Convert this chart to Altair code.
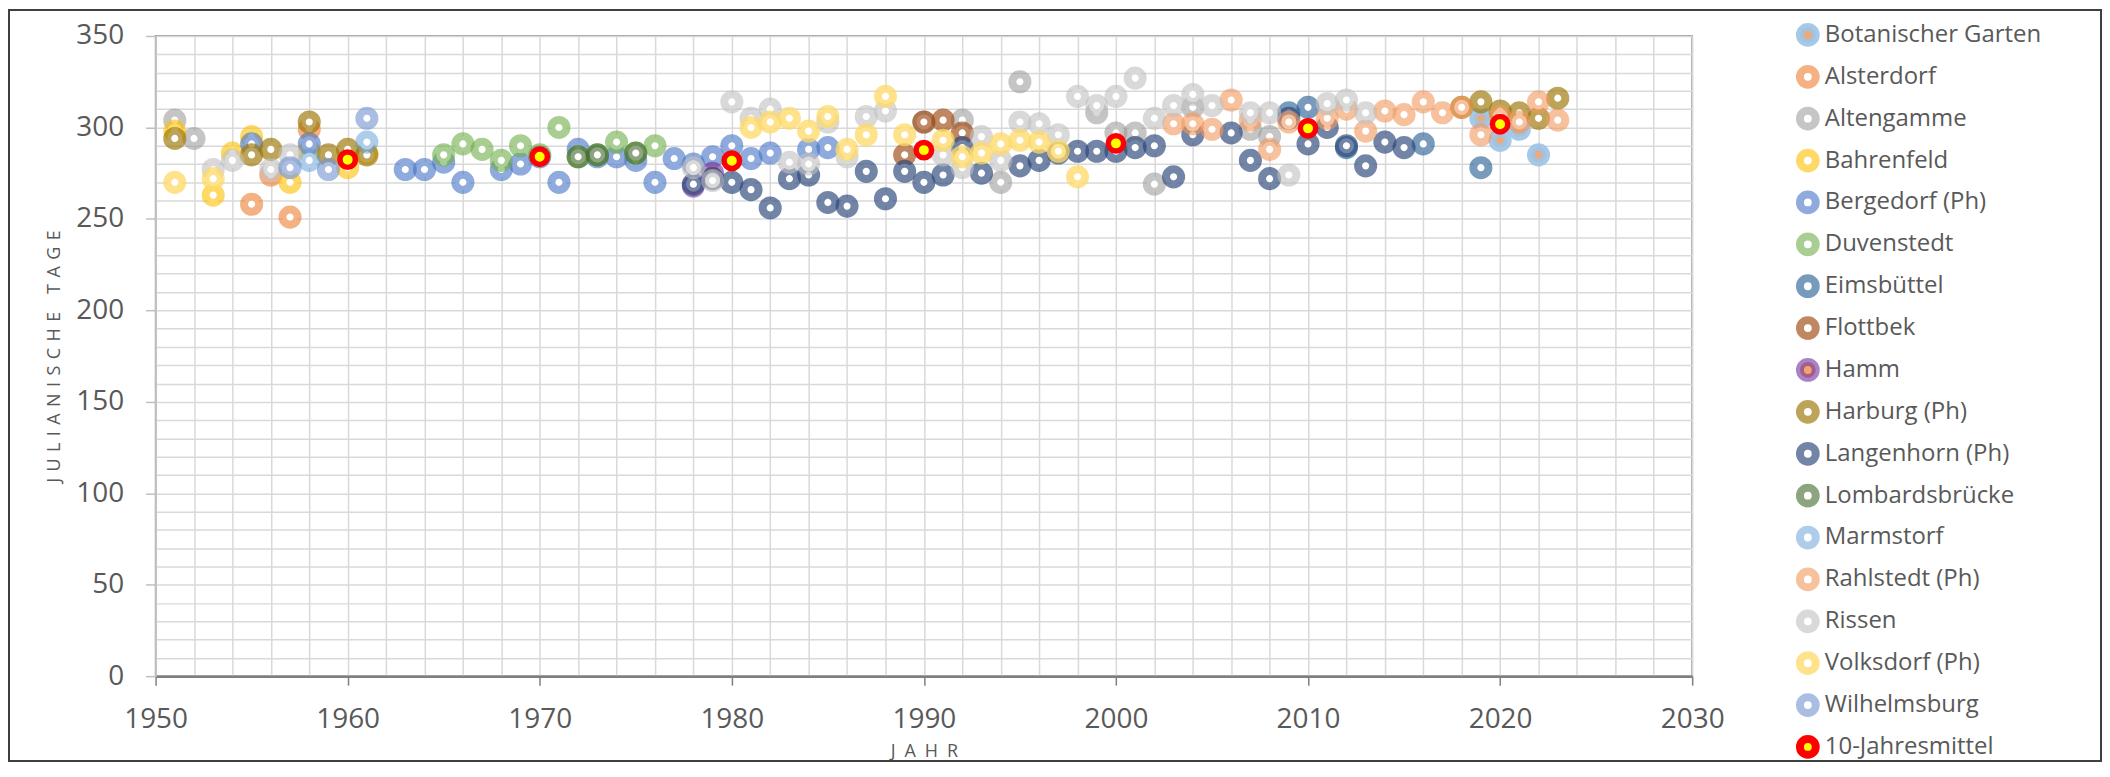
import altair as alt
import pandas as pd

# ---------------- data ----------------
stations = [
    "Botanischer Garten", "Alsterdorf", "Altengamme", "Bahrenfeld", "Bergedorf (Ph)",
    "Duvenstedt", "Eimsbüttel", "Flottbek", "Hamm", "Harburg (Ph)", "Langenhorn (Ph)",
    "Lombardsbrücke", "Marmstorf", "Rahlstedt (Ph)", "Rissen", "Volksdorf (Ph)",
    "Wilhelmsburg", "10-Jahresmittel",
]

botanischer_jahr = [2019, 2020, 2021, 2022]
botanischer_tage = [305, 293, 299, 285]

alsterdorf_jahr = [1955, 1956, 1957, 1958]
alsterdorf_tage = [258, 274, 251, 299]

altengamme_jahr = [1951, 1952, 1990, 1992, 1994, 1995, 1999, 2000, 2001, 2002, 2004, 2007, 2008]
altengamme_tage = [304, 294, 303, 304, 270, 325, 308, 297, 297, 269, 311, 299, 295]

bahrenfeld_jahr = [1951, 1953, 1954, 1955, 1957, 1958, 1960, 1961]
bahrenfeld_tage = [298, 263, 286, 295, 270, 287, 278, 286]

bergedorf_jahr = [1955, 1958, 1963, 1964, 1965, 1966, 1968, 1969, 1970, 1971, 1972, 1973,
                  1974, 1975, 1976, 1977, 1978, 1979, 1980, 1981, 1982, 1984, 1985]
bergedorf_tage = [291, 291, 277, 277, 281, 270, 277, 280, 284, 270, 288, 284,
                  284, 282, 270, 283, 280, 284, 290, 283, 286, 288, 289]

duvenstedt_jahr = [1965, 1966, 1967, 1968, 1969, 1970, 1971, 1972, 1973, 1974, 1975, 1976]
duvenstedt_tage = [285, 291, 288, 282, 290, 285, 300, 284, 285, 292, 286, 290]

eimsbuettel_jahr = [2009, 2010, 2012, 2016, 2019]
eimsbuettel_tage = [308, 311, 289, 291, 278]

flottbek_jahr = [1989, 1990, 1991, 1992]
flottbek_tage = [285, 303, 304, 297]

hamm_jahr = [1978, 1979]
hamm_tage = [268, 275]

harburg_jahr = [1951, 1955, 1956, 1958, 1959, 1960, 1961, 2018, 2019, 2020, 2021, 2022, 2023]
harburg_tage = [294, 285, 288, 303, 285, 288, 285, 311, 314, 309, 308, 305, 316]

langenhorn_jahr = [1978, 1979, 1980, 1981, 1982, 1983, 1984, 1985, 1986, 1987, 1988, 1989,
                   1990, 1991, 1992, 1993, 1995, 1996, 1997, 1998, 1999, 2000, 2001, 2002,
                   2003, 2004, 2006, 2007, 2008, 2009, 2010, 2011, 2012, 2013, 2014, 2015]
langenhorn_tage = [269, 272, 270, 266, 256, 272, 274, 259, 257, 276, 261, 276,
                   270, 274, 289, 275, 279, 282, 286, 287, 287, 287, 289, 290,
                   273, 296, 297, 282, 272, 305, 291, 300, 290, 279, 292, 289]

lombard_jahr = [1972, 1973, 1975]
lombard_tage = [284, 285, 286]

marmstorf_jahr = [1958, 1961]
marmstorf_tage = [282, 292]

rahlstedt_jahr = [2003, 2004, 2005, 2006, 2007, 2008, 2009, 2011, 2012, 2013, 2014, 2015,
                  2016, 2017, 2018, 2019, 2020, 2021, 2022, 2023]
rahlstedt_tage = [302, 302, 299, 315, 304, 288, 303, 305, 310, 298, 309, 307,
                  314, 308, 311, 296, 306, 303, 314, 304]

rissen_jahr = [1953, 1954, 1956, 1957, 1978, 1979, 1980, 1981, 1982, 1983, 1984, 1985,
               1986, 1987, 1988, 1991, 1992, 1993, 1994, 1995, 1996, 1997, 1998, 1999,
               2000, 2001, 2002, 2003, 2004, 2005, 2007, 2008, 2009, 2011, 2012, 2013]
rissen_tage = [277, 282, 277, 285, 278, 271, 314, 305, 310, 281, 280, 303,
               284, 306, 309, 285, 278, 295, 282, 303, 302, 296, 317, 312,
               317, 327, 305, 312, 318, 312, 308, 308, 274, 313, 315, 308]

volksdorf_jahr = [1951, 1953, 1981, 1982, 1983, 1984, 1985, 1986, 1987, 1988, 1989, 1991,
                  1992, 1993, 1994, 1995, 1996, 1997, 1998]
volksdorf_tage = [270, 272, 300, 303, 305, 298, 306, 288, 296, 317, 296, 293,
                  284, 286, 291, 293, 292, 287, 273]

wilhelmsburg_jahr = [1957, 1959, 1961]
wilhelmsburg_tage = [278, 277, 305]

mittel_jahr = [1960, 1970, 1980, 1990, 2000, 2010, 2020]
mittel_tage = [282.4, 284.0, 281.8, 287.6, 291.3, 299.5, 301.8]

# ---------------- styles ----------------
stroke_colors = [
    "rgba(157,195,230,0.9)", "rgba(237,125,49,0.6)", "rgba(150,150,150,0.55)",
    "rgba(255,192,0,0.6)", "rgba(68,114,196,0.6)", "rgba(112,173,71,0.6)",
    "rgba(37,94,145,0.62)", "rgba(158,72,14,0.65)", "rgba(112,48,160,0.6)",
    "rgba(153,115,0,0.65)", "rgba(38,68,120,0.65)", "rgba(67,104,43,0.6)",
    "rgba(91,155,213,0.5)", "rgba(241,151,91,0.6)", "rgba(191,191,191,0.6)",
    "rgba(255,217,102,0.75)", "rgba(114,147,210,0.6)", "#FF0000",
]
fill_colors = ["#EFA877"] + ["#FFFFFF"] * 7 + ["#F2A36E"] + ["#FFFFFF"] * 8 + ["#FFFF00"]

series = [
    (botanischer_jahr, botanischer_tage), (alsterdorf_jahr, alsterdorf_tage),
    (altengamme_jahr, altengamme_tage), (bahrenfeld_jahr, bahrenfeld_tage),
    (bergedorf_jahr, bergedorf_tage), (duvenstedt_jahr, duvenstedt_tage),
    (eimsbuettel_jahr, eimsbuettel_tage), (flottbek_jahr, flottbek_tage),
    (hamm_jahr, hamm_tage), (harburg_jahr, harburg_tage),
    (langenhorn_jahr, langenhorn_tage), (lombard_jahr, lombard_tage),
    (marmstorf_jahr, marmstorf_tage), (rahlstedt_jahr, rahlstedt_tage),
    (rissen_jahr, rissen_tage), (volksdorf_jahr, volksdorf_tage),
    (wilhelmsburg_jahr, wilhelmsburg_tage), (mittel_jahr, mittel_tage),
]

rows = []
for name, (jahre, tage) in zip(stations, series):
    for j, t in zip(jahre, tage):
        rows.append({"Station": name, "Jahr": j, "Tage": t})
df = pd.DataFrame(rows)

FONT = "Open Sans"
TXT = "#595959"
SP = "\u00A0\u200A"
EN = "\u2002"

legend = alt.Legend(
    title=None, orient="none", direction="vertical", legendX=1645, legendY=-22,
    labelFont=FONT, labelFontSize=24, labelColor=TXT, labelLimit=400,
    labelOffset=5, rowPadding=0, clipHeight=41.9, padding=0, symbolType="circle",
    symbolSize=250, symbolStrokeWidth=8,
)

x_axis = alt.Axis(
    values=list(range(1950, 2031, 2)), format="d",
    labelExpr="datum.value % 10 === 0 ? datum.label : ''",
    grid=True, gridColor="#D9D9D9", gridWidth=1.5,
    tickColor={"condition": {"test": "datum.value % 10 === 0", "value": "#7F7F7F"},
               "value": "rgba(0,0,0,0)"},
    tickSize=9, tickWidth=1.5, domainColor="#7F7F7F", domainWidth=2.5,
    labelFont=FONT, labelFontSize=28, labelColor=TXT, labelPadding=20,
    labelOverlap=False, labelFlush=False,
    title=EN.join("JAHR"), titleFont=FONT, titleFontSize=18, titleFontWeight="normal",
    titleColor=TXT, titleX=770.5, titleY=76, titleAlign="center", titleBaseline="middle",
)
y_axis = alt.Axis(
    values=list(range(0, 351, 10)),
    labelExpr="datum.value % 50 === 0 ? datum.label : ''",
    grid=True, gridColor="#D9D9D9", gridWidth=1.5,
    tickColor={"condition": {"test": "datum.value % 50 === 0", "value": "#BFBFBF"},
               "value": "rgba(0,0,0,0)"},
    tickSize=10, tickWidth=1.5, domainColor="#BFBFBF", domainWidth=1.5,
    labelFont=FONT, labelFontSize=28, labelColor=TXT, labelPadding=22,
    labelOverlap=False, labelFlush=False,
    title=SP.join("JULIANISCHE") + EN * 2 + SP.join("TAGE"), titleFont=FONT, titleFontSize=18,
    titleFontWeight="normal", titleColor=TXT, titleX=-101, titleY=321,
    titleAngle=270, titleAlign="center", titleBaseline="middle",
)

is_mittel = alt.datum.Station == "10-Jahresmittel"

points = alt.Chart(df).mark_point(
    shape="circle", filled=True, opacity=1, fillOpacity=1
).encode(
    x=alt.X("Jahr:Q", scale=alt.Scale(domain=[1950, 2030], nice=False, zero=False), axis=x_axis),
    y=alt.Y("Tage:Q", scale=alt.Scale(domain=[0, 350], nice=False), axis=y_axis),
    stroke=alt.Stroke("Station:N", scale=alt.Scale(domain=stations, range=stroke_colors), legend=legend),
    fill=alt.Fill("Station:N", scale=alt.Scale(domain=stations, range=fill_colors), legend=legend),
    size=alt.condition(is_mittel, alt.value(240), alt.value(230)),
    strokeWidth=alt.condition(is_mittel, alt.value(5.5), alt.value(8)),
)

frame = alt.Chart(pd.DataFrame({"f": [0]})).mark_rect(
    fillOpacity=0, stroke="#404040", strokeWidth=2
).encode(
    x=alt.value(-147), x2=alt.value(1951), y=alt.value(-26), y2=alt.value(727)
)

chart = alt.layer(points, frame).properties(
    width=1541, height=642,
    autosize=alt.AutoSizeParams(type="none"),
    padding={"left": 148, "top": 27, "right": 411, "bottom": 86},
).configure(
    background="white", font=FONT,
).configure_view(
    stroke="#7F7F7F", strokeWidth=1.5,
)

chart.save("out.html", embed_options={"renderer": "svg", "actions": False})
